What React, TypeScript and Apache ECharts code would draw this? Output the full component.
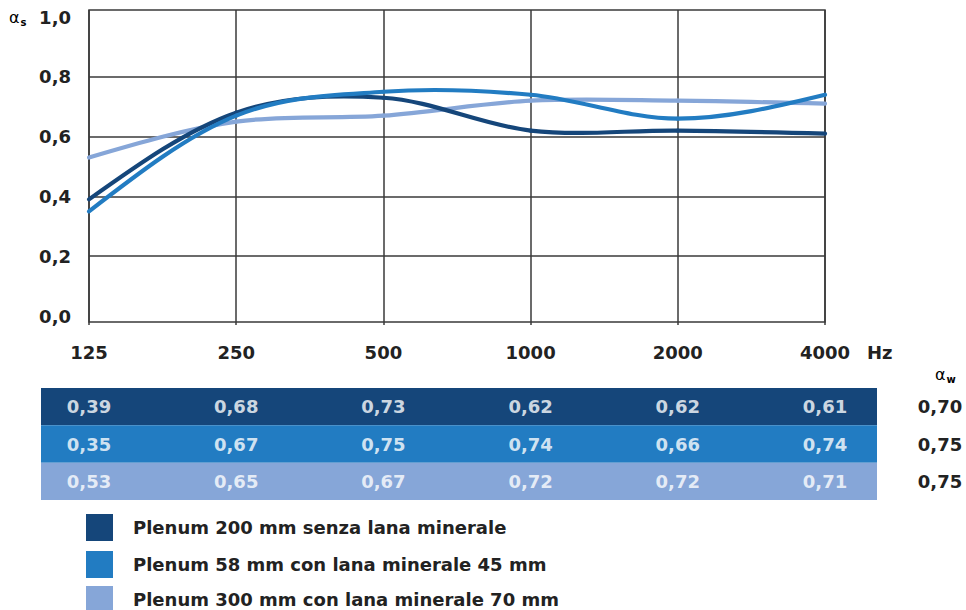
import React, { useEffect, useRef } from "react";
import * as echarts from "echarts";

const frequencies = ["125", "250", "500", "1000", "2000", "4000"];
const seriesNames = [
  "Plenum 200 mm senza lana minerale",
  "Plenum 58 mm con lana minerale 45 mm",
  "Plenum 300 mm con lana minerale 70 mm",
];
const plenum200 = [0.39, 0.68, 0.73, 0.62, 0.62, 0.61];
const plenum58 = [0.35, 0.67, 0.75, 0.74, 0.66, 0.74];
const plenum300 = [0.53, 0.65, 0.67, 0.72, 0.72, 0.71];
const alphaW = [0.7, 0.75, 0.75];
const colors = ["#15467a", "#227cc2", "#86a6d8"];

const FONT = "DejaVu Sans";
const TXT = "#222";
const LINE = "#3a3a3a";

const fmt = (v: number) => v.toFixed(2).replace(".", ",");

// Smooth spline segment through the data points (pixel positions from the axes)
function makeRenderItem(color: string) {
  return (params: any, api: any) => {
    const n = params.dataInsideLength;
    const i = params.dataIndexInside;
    if (i >= n - 1) return null;
    const P: number[][] = [];
    for (let k = 0; k < n; k++) P.push(api.coord([api.value(0, k), api.value(1, k)]));
    const tan = (k: number): number[] => {
      if (k > 0 && k < n - 1) return [(P[k + 1][0] - P[k - 1][0]) / 2, (P[k + 1][1] - P[k - 1][1]) / 2];
      if (k === 0) {
        const m1 = tan(1);
        return [(3 * (P[1][0] - P[0][0]) - m1[0]) / 2, (3 * (P[1][1] - P[0][1]) - m1[1]) / 2];
      }
      const mp = tan(n - 2);
      return [(3 * (P[n - 1][0] - P[n - 2][0]) - mp[0]) / 2, (3 * (P[n - 1][1] - P[n - 2][1]) - mp[1]) / 2];
    };
    const m0 = tan(i);
    const m1 = tan(i + 1);
    return {
      type: "bezierCurve",
      shape: {
        x1: P[i][0],
        y1: P[i][1],
        x2: P[i + 1][0],
        y2: P[i + 1][1],
        cpx1: P[i][0] + m0[0] / 3,
        cpy1: P[i][1] + m0[1] / 3,
        cpx2: P[i + 1][0] - m1[0] / 3,
        cpy2: P[i + 1][1] - m1[1] / 3,
      },
      style: { stroke: color, lineWidth: 4.2, fill: "none", lineCap: "round" },
    };
  };
}

export default function App() {
  const ref = useRef<HTMLDivElement>(null);
  useEffect(() => {
    document.body.style.margin = "0";
    if (!ref.current) return;
    const chart = echarts.init(ref.current, undefined, { renderer: "svg" });
    const rows = [plenum200, plenum58, plenum300];
    const tableData: number[][] = [];
    rows.forEach((row, r) => row.forEach((v, c) => tableData.push([c, r, v])));

    const rowTop = 388;
    const rowH = 112 / 3;

    const graphics: any[] = [];
    colors.forEach((col, r) => {
      graphics.push({
        type: "rect",
        z: -10,
        shape: { x: 41, y: rowTop + r * rowH, width: 836, height: rowH },
        style: { fill: col },
      });
    });
    alphaW.forEach((v, r) => {
      graphics.push({
        type: "text",
        x: 940,
        y: rowTop + r * rowH + rowH / 2,
        style: {
          text: fmt(v),
          fill: TXT,
          font: `bold 18px "${FONT}"`,
          align: "center",
          verticalAlign: "middle",
        },
      });
    });
    graphics.push({
      type: "text",
      x: 867,
      y: 352,
      style: {
        text: "Hz",
        fill: TXT,
        font: `bold 18px "${FONT}"`,
        align: "left",
        verticalAlign: "middle",
      },
    });
    const alphaRich = {
      a: { fontSize: 16, fontFamily: FONT, color: "#2b3f5e" },
      s: { fontSize: 10, fontFamily: FONT, fontWeight: "bold", color: "#2b3f5e", padding: [10, 0, 0, 1] },
    };
    graphics.push({
      type: "text",
      x: 9,
      y: 17,
      style: { text: "{a|α}{s|s}", verticalAlign: "middle", rich: alphaRich },
    });
    graphics.push({
      type: "text",
      x: 935,
      y: 374,
      style: { text: "{a|α}{s|w}", verticalAlign: "middle", rich: alphaRich },
    });

    const zs = [3, 4, 2];
    const curveSeries = rows.map((d, i) => ({
      name: seriesNames[i],
      type: "custom",
      xAxisIndex: 1,
      yAxisIndex: 1,
      data: d.map((v, k) => [k, v]),
      encode: { x: 0, y: 1 },
      renderItem: makeRenderItem(colors[i]),
      itemStyle: { color: colors[i] },
      z: zs[i],
      silent: true,
    }));

    const legendTops = [514, 551, 586];
    const legends = seriesNames.map((name, i) => ({
      data: [name],
      orient: "vertical",
      left: 86,
      top: legendTops[i],
      padding: 0,
      itemWidth: 27,
      itemHeight: 27,
      icon: "rect",
      selectedMode: false,
      itemStyle: { color: colors[i], borderWidth: 0 },
      textStyle: {
        fontFamily: FONT,
        fontWeight: "bold",
        fontSize: 18,
        lineHeight: 17,
        color: TXT,
        padding: [0, 0, 0, 15],
      },
    }));

    chart.setOption({
      animation: false,
      grid: [
        { left: 89, right: 141, top: 10, bottom: 288, show: true, borderColor: LINE, borderWidth: 1.5, backgroundColor: "transparent" },
        { left: 89, right: 141, top: 17, bottom: 294 },
        { left: 89, right: 141, top: 388, bottom: 110 },
      ],
      xAxis: [
        {
          gridIndex: 0,
          type: "category",
          data: frequencies,
          boundaryGap: false,
          axisLine: { show: false },
          axisTick: { show: true, length: 3, lineStyle: { color: LINE, width: 1.5 } },
          splitLine: { show: true, lineStyle: { color: LINE, width: 1.5 } },
          axisLabel: { fontFamily: FONT, fontWeight: "bold", fontSize: 18, color: TXT, margin: 21 },
        },
        { gridIndex: 1, type: "category", data: frequencies, boundaryGap: false, show: false },
        { gridIndex: 2, type: "category", data: frequencies, boundaryGap: false, show: false },
      ],
      yAxis: [
        { gridIndex: 0, type: "value", min: 0, max: 1, show: false },
        {
          gridIndex: 1,
          type: "value",
          min: 0,
          max: 1,
          interval: 0.2,
          axisLine: { show: false },
          axisTick: { show: false },
          axisLabel: {
            fontFamily: FONT,
            fontWeight: "bold",
            fontSize: 18,
            color: TXT,
            margin: 18,
            formatter: (v: number) => v.toFixed(1).replace(".", ","),
          },
          splitLine: { show: true, showMinLine: false, showMaxLine: false, lineStyle: { color: LINE, width: 1.5 } },
        },
        { gridIndex: 2, type: "category", data: ["0", "1", "2"], inverse: true, show: false },
      ],
      legend: legends,
      graphic: graphics,
      series: [
        ...curveSeries,
        {
          type: "scatter",
          xAxisIndex: 2,
          yAxisIndex: 2,
          data: tableData,
          symbolSize: 1,
          itemStyle: { color: "transparent" },
          silent: true,
          z: 10,
          label: {
            show: true,
            position: "inside",
            formatter: (p: any) => fmt(p.value[2]),
            color: "#fff",
            fontFamily: FONT,
            fontWeight: "bold",
            fontSize: 18,
          },
        },
      ],
    });
    return () => chart.dispose();
  }, []);
  return <div ref={ref} style={{ width: 966, height: 610 }} />;
}
